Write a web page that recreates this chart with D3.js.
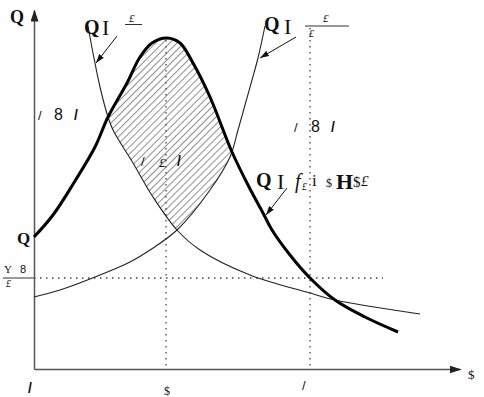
<!DOCTYPE html>
<html>
<head>
<meta charset="utf-8">
<script src="https://cdn.jsdelivr.net/npm/d3@7"></script>
<style>
  body { margin: 0; background: #fff; }
  svg { display: block; }
  .serif { font-family: "Liberation Serif", "DejaVu Serif", serif; }
  .sans { font-family: "Liberation Sans", "DejaVu Sans", sans-serif; }
</style>
</head>
<body>
<div id="chart"></div>
<script>
// curve points, in plot units (x right from origin, y up from origin)
var bellCurve = [[0,132],[19,154],[41,188],[61,222],[74,252],[93,286],[106,312],[118,326],
  [133,331],[146,326],[159,306],[176,272],[198,217],[214,184],[229,156],[238,139],
  [256,114],[276,91],[301,69],[331,52],[364,37]];
var decCurve = [[54,343],[59,316],[66,282],[74,252],[79,239],[99,206],[119,172],[143,139],
  [166,119],[216,94],[276,76],[301,69],[386,55]];
var incCurve = [[0,72],[26,79],[66,94],[96,107],[116,119],[143,139],[176,179],[196,212],
  [204,239],[211,264],[218,289],[224,311],[231,343]];

// guide lines
var vGuides = [[132, 329], [276, 341]];   // x, top
var hGuides = [[91, 349]];               // y, right end

var width = 484, height = 397;

var x = d3.scaleLinear().domain([0, 426]).range([34, 460]);
var y = d3.scaleLinear().domain([0, 359]).range([369, 10]);

var svg = d3.select("#chart").append("svg")
    .attr("width", width)
    .attr("height", height);

var defs = svg.append("defs");

// arrow heads
defs.append("marker")
    .attr("id", "axisArrow")
    .attr("markerUnits", "userSpaceOnUse")
    .attr("markerWidth", 12).attr("markerHeight", 8)
    .attr("refX", 11).attr("refY", 4)
    .attr("orient", "auto")
  .append("path")
    .attr("d", "M0,0L12,4L0,8Z")
    .attr("fill", "#222");

defs.append("marker")
    .attr("id", "noteArrow")
    .attr("markerUnits", "userSpaceOnUse")
    .attr("markerWidth", 9).attr("markerHeight", 6)
    .attr("refX", 9).attr("refY", 3)
    .attr("orient", "auto")
  .append("path")
    .attr("d", "M0,0L9,3L0,6Z")
    .attr("fill", "#111");

// hatch
var pat = defs.append("pattern")
    .attr("id", "hatch")
    .attr("patternUnits", "userSpaceOnUse")
    .attr("width", 5).attr("height", 5)
    .attr("patternTransform", "rotate(45)");
pat.append("line")
    .attr("x1", 0).attr("y1", 0).attr("x2", 0).attr("y2", 5)
    .attr("stroke", "#333").attr("stroke-width", 1.1);

var curve = d3.curveCatmullRom.alpha(0.5);

var line = d3.line()
    .x(function(d) { return x(d[0]); })
    .y(function(d) { return y(d[1]); })
    .curve(curve);

var areaBelow = d3.area()
    .x(function(d) { return x(d[0]); })
    .y0(y(0))
    .y1(function(d) { return y(d[1]); })
    .curve(curve);

var areaAbove = d3.area()
    .x(function(d) { return x(d[0]); })
    .y0(y(359))
    .y1(function(d) { return y(d[1]); })
    .curve(curve);

defs.append("clipPath").attr("id", "underBell")
  .append("path").attr("d", areaBelow(bellCurve));
defs.append("clipPath").attr("id", "overDec")
  .append("path").attr("d", areaAbove(decCurve));
defs.append("clipPath").attr("id", "overInc")
  .append("path").attr("d", areaAbove(incCurve));

// hatched region: below the bell, above both thin curves
svg.append("g").attr("clip-path", "url(#underBell)")
  .append("g").attr("clip-path", "url(#overDec)")
  .append("rect")
    .attr("clip-path", "url(#overInc)")
    .attr("x", x(0)).attr("y", y(359))
    .attr("width", x(426) - x(0)).attr("height", y(0) - y(359))
    .attr("fill", "url(#hatch)");

// dotted guides
svg.selectAll(".vguide").data(vGuides).enter().append("line")
    .attr("class", "vguide")
    .attr("x1", function(d) { return x(d[0]); })
    .attr("x2", function(d) { return x(d[0]); })
    .attr("y1", function(d) { return y(d[1]); })
    .attr("y2", y(0))
    .attr("stroke", "#444").attr("stroke-width", 1.3)
    .attr("stroke-dasharray", "1.5,4.5");

svg.selectAll(".hguide").data(hGuides).enter().append("line")
    .attr("class", "hguide")
    .attr("x1", x(0))
    .attr("x2", function(d) { return x(d[1]); })
    .attr("y1", function(d) { return y(d[0]); })
    .attr("y2", function(d) { return y(d[0]); })
    .attr("stroke", "#444").attr("stroke-width", 1.3)
    .attr("stroke-dasharray", "1.5,4.5");

// small solid tick left of the axis for the price label
svg.append("line")
    .attr("x1", 3).attr("x2", x(0))
    .attr("y1", y(hGuides[0][0])).attr("y2", y(hGuides[0][0]))
    .attr("stroke", "#555").attr("stroke-width", 1.2);

// axes
var xAxis = svg.append("g")
    .attr("transform", "translate(0," + y(0) + ")")
    .call(d3.axisBottom(x).tickValues([]).tickSizeOuter(0));
xAxis.select(".domain")
    .attr("stroke", "#555").attr("stroke-width", 1.5)
    .attr("marker-end", "url(#axisArrow)");

var yAxis = svg.append("g")
    .attr("transform", "translate(" + x(0) + ",0)")
    .call(d3.axisLeft(y).tickValues([]).tickSizeOuter(0));
yAxis.select(".domain")
    .attr("stroke", "#555").attr("stroke-width", 1.5)
    .attr("marker-end", "url(#axisArrow)");

// curves
svg.append("path").datum(decCurve)
    .attr("d", line).attr("fill", "none")
    .attr("stroke", "#222").attr("stroke-width", 1.1);
svg.append("path").datum(incCurve)
    .attr("d", line).attr("fill", "none")
    .attr("stroke", "#222").attr("stroke-width", 1.1);
svg.append("path").datum(bellCurve)
    .attr("d", line).attr("fill", "none")
    .attr("stroke", "#000").attr("stroke-width", 3);

// label arrows
var notes = [[117, 36, 96, 63], [296, 37, 260, 58], [287, 188, 266, 215]];
svg.selectAll(".note").data(notes).enter().append("line")
    .attr("class", "note")
    .attr("x1", function(d) { return d[0]; })
    .attr("y1", function(d) { return d[1]; })
    .attr("x2", function(d) { return d[2]; })
    .attr("y2", function(d) { return d[3]; })
    .attr("stroke", "#111").attr("stroke-width", 1)
    .attr("marker-end", "url(#noteArrow)");

// text
function txt(x0, y0, s, size, cls, extra) {
  var t = svg.append("text")
      .attr("x", x0).attr("y", y0)
      .attr("class", cls)
      .attr("font-size", size)
      .attr("fill", "#111")
      .text(s);
  if (extra) extra(t);
  return t;
}
var bold = function(t) { t.attr("font-weight", "bold"); };
var ital = function(t) { t.attr("font-style", "italic"); };

txt(10, 23, "Q", 18, "serif", bold);
txt(17, 244, "Q", 17, "serif", bold);

// top left label
txt(84, 34, "Q", 20, "serif", bold);
txt(102, 35, "I", 22, "serif");
txt(129, 22, "£", 11, "serif", ital);
svg.append("line").attr("x1", 125).attr("x2", 142).attr("y1", 24.5).attr("y2", 24.5)
    .attr("stroke", "#333").attr("stroke-width", 1);

// top right label
txt(264, 31, "Q", 20, "serif", bold);
txt(284, 34, "I", 22, "serif");
txt(323, 22, "£", 11, "serif", ital);
svg.append("line").attr("x1", 305).attr("x2", 349).attr("y1", 26).attr("y2", 26)
    .attr("stroke", "#333").attr("stroke-width", 1);
txt(309, 37, "£", 10, "serif", ital);

// middle right label
txt(256, 187, "Q", 20, "serif", bold);
txt(277, 189, "I", 22, "serif");
txt(295, 188, "f", 20, "serif", ital);
txt(302, 190, "£", 10, "serif", ital);
txt(312, 186, "i", 17, "serif");
txt(326, 187, "$", 12, "serif");
txt(336, 189, "H", 22, "serif", bold);
txt(353, 187, "$", 15, "serif");
txt(361, 186, "£", 15, "serif", ital);

// small labels
txt(38, 120, "/", 13, "sans");
txt(54, 120, "8", 16, "sans");
txt(74, 120, "/", 14, "sans", bold);

txt(294, 132, "/", 13, "sans");
txt(311, 132, "8", 16, "sans");
txt(331, 132, "/", 14, "sans", bold);

txt(141, 166, "/", 13, "sans");
txt(159, 167, "£", 13, "serif", ital);
txt(177, 166, "/", 14, "sans", bold);

txt(4, 273, "Y", 11, "serif");
txt(20, 273, "8", 11, "sans");
txt(6, 287, "£", 10, "serif", ital);

// axis labels
txt(28, 393, "/", 14, "sans", bold);
txt(164, 395, "$", 12, "serif");
txt(302, 390, "/", 13, "sans");
txt(468, 379, "$", 13, "serif");
</script>
</body>
</html>
